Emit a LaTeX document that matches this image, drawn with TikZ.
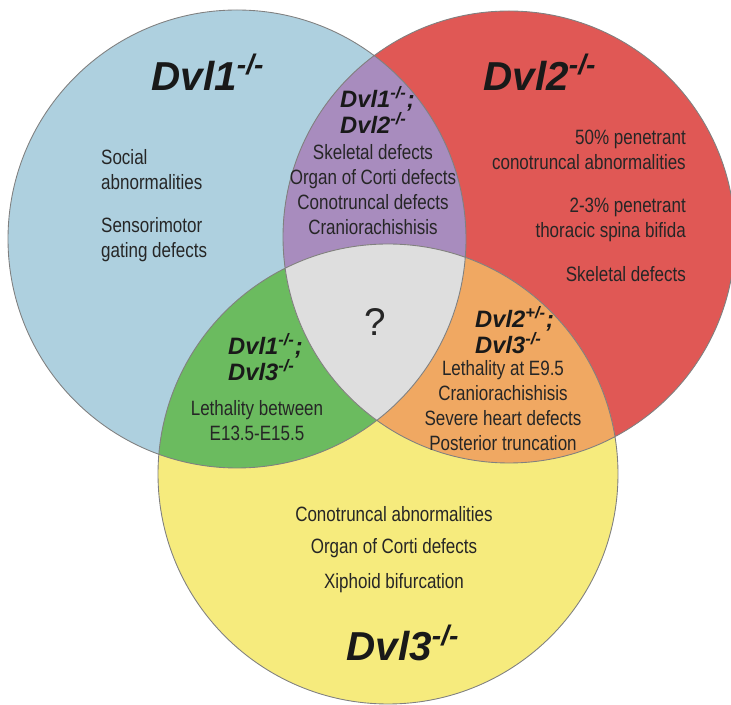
\documentclass[tikz,border=0pt]{standalone}
\usepackage{fontspec}
\setmainfont{Liberation Sans}
\newfontfamily\narrowsans{Liberation Sans}[FakeStretch=0.82]

% region colours
\definecolor{dvlone}{RGB}{174,208,223}
\definecolor{dvltwo}{RGB}{224,88,85}
\definecolor{dvlthree}{RGB}{246,235,125}
\definecolor{onetwo}{RGB}{168,140,190}
\definecolor{onethree}{RGB}{107,187,95}
\definecolor{twothree}{RGB}{240,168,98}
\definecolor{allthree}{RGB}{222,222,222}

% the three circles
\newcommand{\circone}{(237,-239) circle[radius=229]}
\newcommand{\circtwo}{(509,-237) circle[radius=226]}
\newcommand{\circthree}{(388,-474) circle[radius=230]}

\begin{document}
\begin{tikzpicture}[x=0.02cm, y=0.02cm,
    title/.style={font=\fontsize{23}{25}\selectfont\bfseries\itshape, text=black!90},
    pair/.style={font=\fontsize{13.5}{15}\selectfont\bfseries\itshape, align=left, text=black!90},
    trait/.style={font=\narrowsans\fontsize{11.8}{14.2}\selectfont, align=center, text=black!85}]
    \useasboundingbox (0,0) rectangle (731,-705);

    % Fill the single circles
    \fill[dvlone] \circone;
    \fill[dvltwo] \circtwo;
    \fill[dvlthree] \circthree;

    % Pairwise overlaps
    \begin{scope}
        \clip \circone;
        \fill[onetwo] \circtwo;
        \fill[onethree] \circthree;
    \end{scope}
    \begin{scope}
        \clip \circtwo;
        \fill[twothree] \circthree;
    \end{scope}
    % Centre of all three
    \begin{scope}
        \clip \circone;
        \clip \circtwo;
        \fill[allthree] \circthree;
    \end{scope}

    % Outlines
    \draw[gray, line width=0.5pt] \circone \circtwo \circthree;

    % Titles
    \node[title] (t1) at (208,-72) {Dvl1\textsuperscript{-/-}};
    \node[title] (t2) at (540,-72) {Dvl2\textsuperscript{-/-}};
    \node[title] (t3) at (403,-643) {Dvl3\textsuperscript{-/-}};

    % Dvl1 only
    \node[trait, align=left, anchor=west] (s1a) at (95,-170) {Social\\abnormalities};
    \node[trait, align=left, anchor=west] (s1b) at (95,-240) {Sensorimotor\\gating defects};

    % Dvl2 only
    \node[trait, align=right, anchor=east] (s2a) at (692,-150) {50\% penetrant\\conotruncal abnormalities};
    \node[trait, align=right, anchor=east] (s2b) at (692,-220) {2-3\% penetrant\\thoracic spina bifida};
    \node[trait, align=right, anchor=east] (s2c) at (692,-274) {Skeletal defects};

    % Dvl1 and Dvl2
    \node[pair, anchor=west] (p12) at (334,-110) {Dvl1\textsuperscript{-/-};\\Dvl2\textsuperscript{-/-}};
    \node[trait] (s12) at (373,-190) {Skeletal defects\\Organ of Corti defects\\Conotruncal defects\\Craniorachishisis};

    % all three
    \node[font=\fontsize{22}{24}\selectfont, text=black!85] (q) at (375,-322) {?};

    % Dvl1 and Dvl3
    \node[pair, anchor=west] (p13) at (222,-357) {Dvl1\textsuperscript{-/-};\\Dvl3\textsuperscript{-/-}};
    \node[trait] (s13) at (257,-421) {Lethality between\\E13.5-E15.5};

    % Dvl2 and Dvl3
    \node[pair, anchor=west] (p23) at (469,-330) {Dvl2\textsuperscript{+/-};\\Dvl3\textsuperscript{-/-}};
    \node[trait] (s23) at (503,-406) {Lethality at E9.5\\Craniorachishisis\\Severe heart defects\\Posterior truncation};

    % Dvl3 only
    \node[trait] (s3a) at (394,-514) {Conotruncal abnormalities};
    \node[trait] (s3b) at (394,-548) {Organ of Corti defects};
    \node[trait] (s3c) at (394,-583) {Xiphoid bifurcation};
\end{tikzpicture}
\end{document}
